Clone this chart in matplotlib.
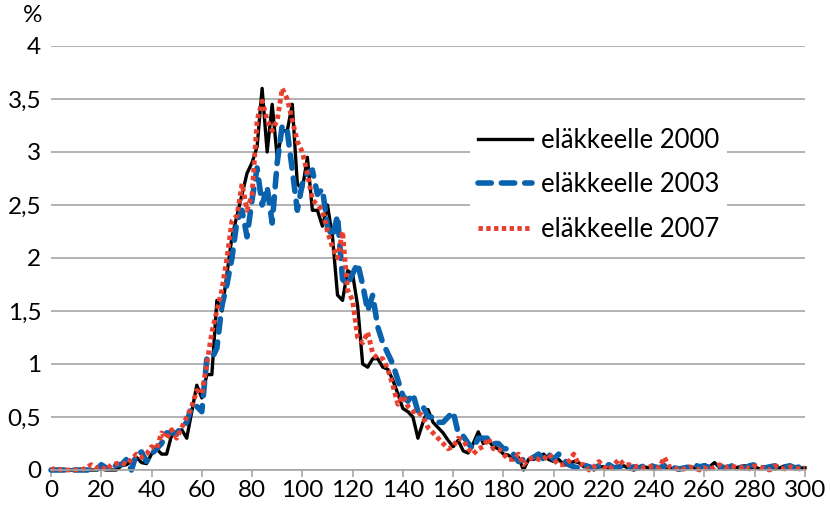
import numpy as np
import matplotlib.pyplot as plt

plt.rcParams['font.family'] = ['Lato', 'DejaVu Sans']

x = list(range(0, 301, 2))

s2000 = [0, 0, 0, 0, 0, 0, 0, 0, 0, 0,
         0.01, 0, 0, 0, 0.04, 0.05, 0.08, 0.12, 0.07, 0.06,
         0.15, 0.2, 0.15, 0.15, 0.33, 0.33, 0.38, 0.3, 0.55, 0.8,
         0.68, 0.9, 0.9, 1.6, 1.5, 1.85, 2.2, 2.4, 2.6, 2.8,
         2.9, 3.05, 3.6, 3.0, 3.45, 2.95, 3.2, 3.2, 3.45, 2.7,
         2.65, 2.95, 2.45, 2.45, 2.3, 2.5, 2.2, 1.65, 1.6, 1.88,
         1.85, 1.55, 1.0, 0.97, 1.05, 1.05, 0.97, 0.95, 0.85, 0.72,
         0.58, 0.55, 0.5, 0.3, 0.45, 0.57, 0.45, 0.4, 0.35, 0.28,
         0.22, 0.28, 0.18, 0.16, 0.25, 0.36, 0.25, 0.28, 0.22, 0.2,
         0.15, 0.14, 0.1, 0.12, 0.0, 0.1, 0.1, 0.12, 0.15, 0.1,
         0.08, 0.1, 0.05, 0.05, 0.08, 0.07, 0.03, 0.04, 0.0, 0.03,
         0.03, 0.02, 0.03, 0.02, 0.04, 0.01, 0.0, 0.02, 0.03, 0.02,
         0.01, 0.02, 0.03, 0.02, 0.01, 0.0, 0.02, 0.03, 0.02, 0.01,
         0.05, 0.03, 0.07, 0.02, 0.02, 0.03, 0.02, 0.03, 0.04, 0.02,
         0.03, 0.01, 0.02, 0.03, 0.01, 0.02, 0.04, 0.02, 0.03, 0.02,
         0.02]

s2003 = [0, 0, 0, 0, 0, 0, 0, 0, 0, 0,
         0.05, 0.02, 0, 0.05, 0.05, 0.1, 0.0, 0.15, 0.17, 0.08,
         0.15, 0.2, 0.25, 0.35, 0.35, 0.35, 0.4, 0.45, 0.6, 0.6,
         0.55, 1.05, 1.05, 1.15, 1.55, 1.75, 2.0, 2.35, 2.45, 2.2,
         2.55, 2.85, 2.5, 2.67, 2.33, 2.9, 3.25, 3.2, 2.83, 2.45,
         2.7, 2.8, 2.83, 2.6, 2.65, 2.3, 2.2, 2.4, 1.8, 1.75,
         1.85, 1.95, 1.75, 1.5, 1.65, 1.35, 1.2, 1.1, 1.0, 0.85,
         0.7, 0.65, 0.72, 0.55, 0.6, 0.5, 0.5, 0.45, 0.45, 0.5,
         0.55, 0.35, 0.32, 0.25, 0.2, 0.3, 0.3, 0.3, 0.25, 0.25,
         0.2, 0.2, 0.15, 0.08, 0.1, 0.1, 0.12, 0.15, 0.1, 0.15,
         0.1, 0.15, 0.1, 0.05, 0.03, 0.02, 0.05, 0.03, 0.02, 0.04,
         0.03, 0.05, 0.02, 0.03, 0.04, 0.02, 0.03, 0.02, 0.04, 0.05,
         0.03, 0.02, 0.04, 0.03, 0.02, 0.01, 0.02, 0.03, 0.05, 0.03,
         0.04, 0.02, 0.03, 0.04, 0.02, 0.03, 0.05, 0.03, 0.02, 0.04,
         0.05, 0.03, 0.02, 0.03, 0.04, 0.02, 0.03, 0.04, 0.02, 0.03,
         0.03]

s2007 = [0, 0.02, 0, 0, 0, 0, 0, 0.02, 0.05, 0.02,
         0.03, 0, 0.05, 0.06, 0.07, 0.05, 0.1, 0.15, 0.12, 0.15,
         0.22, 0.2, 0.35, 0.3, 0.38, 0.3, 0.4, 0.5, 0.6, 0.75,
         0.72, 1.0, 1.3, 1.5, 1.7, 2.0, 2.35, 2.4, 2.7, 2.45,
         2.6, 3.3, 3.48, 3.3, 3.2, 3.3, 3.6, 3.5, 3.3, 3.1,
         3.0, 2.8, 2.55, 2.5, 2.45, 2.25, 2.1, 2.0, 2.25, 1.7,
         1.6, 1.25, 1.2, 1.3, 1.1, 1.05, 1.05, 0.95, 0.8, 0.62,
         0.7, 0.6, 0.55, 0.55, 0.5, 0.4, 0.35, 0.3, 0.25, 0.2,
         0.22, 0.3, 0.28, 0.2, 0.15, 0.2, 0.22, 0.3, 0.2, 0.2,
         0.15, 0.1, 0.1, 0.15, 0.05, 0.1, 0.12, 0.1, 0.1, 0.15,
         0.1, 0.05, 0.05, 0.08, 0.15, 0.05, 0.05, 0.0, 0.03, 0.08,
         0.03, 0.0, 0.05, 0.1, 0.05, 0.05, 0.03, 0.04, 0.02, 0.03,
         0.04, 0.02, 0.12, 0.03, 0.02, 0.0, 0.01, 0.03, 0.02, 0.0,
         0.02, 0.0, 0.03, 0.05, 0.02, 0.04, 0.03, 0.02, 0.04, 0.01,
         0.04, 0.03, 0.01, 0.0, 0.04, 0.02, 0.01, 0.03, 0.02, 0.01,
         0.02]

labels = ['eläkkeelle 2000', 'eläkkeelle 2003', 'eläkkeelle 2007']
yticks = [0, 0.5, 1, 1.5, 2, 2.5, 3, 3.5, 4]
ytick_labels = ['0', '0,5', '1', '1,5', '2', '2,5', '3', '3,5', '4']
xticks = list(range(0, 301, 20))

fig = plt.figure(figsize=(8.3, 5.07), dpi=100)
ax = fig.add_axes([51 / 830, 1 - 470 / 507, 754 / 830, 424 / 507])

grid_c = '#a6a6a6'
ax.set_xlim(0, 300)
ax.set_ylim(0, 4)
ax.set_yticks(yticks)
ax.set_yticklabels(ytick_labels)
ax.set_xticks(xticks)
ax.yaxis.grid(True, color=grid_c, lw=1.2)
ax.set_axisbelow(True)
for s in ['top', 'right', 'left']:
    ax.spines[s].set_visible(False)
ax.spines['bottom'].set_color(grid_c)
ax.spines['bottom'].set_linewidth(1.2)
ax.tick_params(axis='y', length=0, labelsize=17.5, pad=7)
ax.tick_params(axis='x', direction='out', length=5, color=grid_c, width=1.2, labelsize=17.5, pad=2)

ax.plot(x, s2000, color='black', lw=2.4, label=labels[0], clip_on=False)
ax.plot(x, s2003, color='#0862ad', lw=4.0, dashes=(2.4, 1.8), dash_capstyle='round',
        label=labels[1], clip_on=False)
ax.plot(x, s2007, color='#e8402f', lw=3.5, dashes=(0.9, 0.7), dash_capstyle='butt',
        label=labels[2], clip_on=False)

leg = ax.legend(loc='upper left', bbox_to_anchor=(457 / 830, 1 - 107 / 507),
                bbox_transform=fig.transFigure, fontsize=18.5, frameon=True,
                handlelength=2.1, labelspacing=0.76, handletextpad=0.35, borderpad=0.3)
leg.get_frame().set_facecolor('white')
leg.get_frame().set_edgecolor('none')
leg.get_frame().set_alpha(1)

fig.text(33 / 830, 1 - 16 / 507, '%', fontsize=17.5, ha='center', va='center')

fig.savefig('out.png', dpi=100)
